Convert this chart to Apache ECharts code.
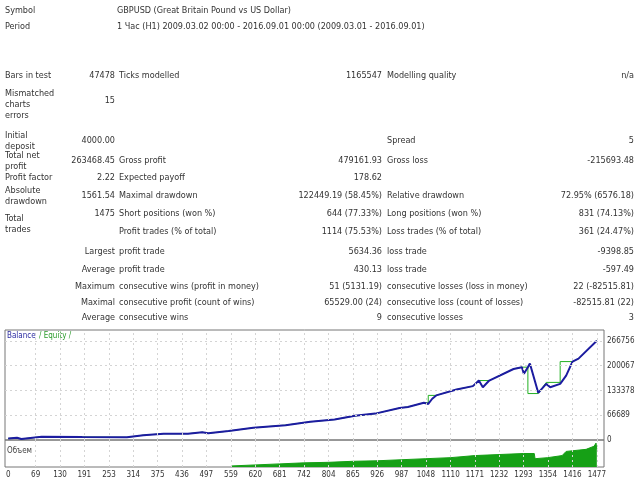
<!DOCTYPE html>
<html><head><meta charset="utf-8">
<script src="https://cdn.jsdelivr.net/npm/echarts@6/dist/echarts.min.js"></script>
<style>html,body{margin:0;padding:0;background:#fff}#c{width:640px;height:480px}</style>
</head><body><div id="c"></div>
<script>
const xTicks=[0,69,130,191,253,314,375,436,497,559,620,681,742,804,865,926,987,1048,1110,1171,1232,1293,1354,1416,1477];
const yTicks=[0,66689,133378,200067,266756];
const balance=[[0,4000],[22,6200],[33,2700],[84,8900],[186,8000],[298,7100],[339,13000],[390,17000],[451,17000],[487,21000],[502,18000],[553,24000],[615,33000],[696,40000],[758,49000],[819,55000],[870,65000],[921,71000],[982,86000],[1003,89000],[1043,100000],[1054,97000],[1064,111000],[1074,120000],[1125,136000],[1166,145000],[1181,160000],[1191,142000],[1207,160000],[1268,191000],[1289,196000],[1294,178000],[1304,196000],[1309,206000],[1330,127000],[1350,151000],[1360,142000],[1385,151000],[1400,173000],[1416,211000],[1431,219000],[1477,267000]];
const equity=[[0,4000],[22,6200],[33,2700],[84,8900],[186,8000],[298,7100],[339,13000],[390,17000],[451,17000],[487,21000],[502,18000],[553,24000],[615,33000],[696,40000],[758,49000],[819,55000],[870,65000],[921,71000],[982,86000],[1003,89000],[1043,100000],[1054,100000],[1054,120000],[1074,120000],[1125,136000],[1166,145000],[1181,160000],[1207,160000],[1268,191000],[1289,196000],[1304,196000],[1304,125000],[1330,125000],[1350,155000],[1362,155000],[1385,155000],[1385,211000],[1416,211000],[1431,219000],[1477,267000]];
const volume=[[559,1],[620,2],[681,3],[742,4],[804,4.5],[865,5.5],[926,6],[987,7],[1048,8],[1110,9],[1171,11],[1232,12],[1293,13],[1320,13],[1322,8],[1354,9],[1390,11],[1400,15],[1450,17],[1470,20],[1475,23],[1477,17]];
const rows=[
 ['Symbol',5,11,'left'],['GBPUSD (Great Britain Pound vs US Dollar)',117,11,'left'],
 ['Period',5,27,'left'],['1 Час (H1) 2009.03.02 00:00 - 2016.09.01 00:00 (2009.03.01 - 2016.09.01)',117,27,'left'],
 ['Bars in test',5,76,'left'],['47478',115,76,'right'],['Ticks modelled',119,76,'left'],['1165547',382,76,'right'],['Modelling quality',387,76,'left'],['n/a',634,76,'right'],
 ['Mismatched\ncharts\nerrors',5,105,'left'],['15',115,101,'right'],
 ['Initial\ndeposit',5,141,'left'],['4000.00',115,141,'right'],['Spread',387,141,'left'],['5',634,141,'right'],
 ['Total net\nprofit',5,161,'left'],['263468.45',115,161,'right'],['Gross profit',119,161,'left'],['479161.93',382,161,'right'],['Gross loss',387,161,'left'],['-215693.48',634,161,'right'],
 ['Profit factor',5,178,'left'],['2.22',115,178,'right'],['Expected payoff',119,178,'left'],['178.62',382,178,'right'],
 ['Absolute\ndrawdown',5,196,'left'],['1561.54',115,196,'right'],['Maximal drawdown',119,196,'left'],['122449.19 (58.45%)',382,196,'right'],['Relative drawdown',387,196,'left'],['72.95% (6576.18)',634,196,'right'],
 ['Total\ntrades',5,224,'left'],['1475',115,214,'right'],['Short positions (won %)',119,214,'left'],['644 (77.33%)',382,214,'right'],['Long positions (won %)',387,214,'left'],['831 (74.13%)',634,214,'right'],
 ['Profit trades (% of total)',119,232,'left'],['1114 (75.53%)',382,232,'right'],['Loss trades (% of total)',387,232,'left'],['361 (24.47%)',634,232,'right'],
 ['Largest',115,252,'right'],['profit trade',119,252,'left'],['5634.36',382,252,'right'],['loss trade',387,252,'left'],['-9398.85',634,252,'right'],
 ['Average',115,270,'right'],['profit trade',119,270,'left'],['430.13',382,270,'right'],['loss trade',387,270,'left'],['-597.49',634,270,'right'],
 ['Maximum',115,287,'right'],['consecutive wins (profit in money)',119,287,'left'],['51 (5131.19)',382,287,'right'],['consecutive losses (loss in money)',387,287,'left'],['22 (-82515.81)',634,287,'right'],
 ['Maximal',115,303,'right'],['consecutive profit (count of wins)',119,303,'left'],['65529.00 (24)',382,303,'right'],['consecutive loss (count of losses)',387,303,'left'],['-82515.81 (22)',634,303,'right'],
 ['Average',115,318,'right'],['consecutive wins',119,318,'left'],['9',382,318,'right'],['consecutive losses',387,318,'left'],['3',634,318,'right']
];
const F='"DejaVu Sans Condensed","DejaVu Sans",sans-serif';
const graphic=rows.map(r=>({type:'text',x:r[1],y:r[2],style:{text:r[0],textAlign:r[3],textVerticalAlign:'middle',font:'9px '+F,fill:'#333',lineHeight:11}}));
graphic.push({type:'text',x:7,y:336,style:{rich:{b:{fill:'#2a2aa0',font:'8px '+F},e:{fill:'#2a9a2a',font:'8px '+F}},text:'{b|Balance} {e|/ Equity /}',textVerticalAlign:'middle'}});
graphic.push({type:'text',x:7,y:451,style:{text:'Объем',font:'8px '+F,fill:'#444',textVerticalAlign:'middle'}});
const ml={silent:true,symbol:'none',label:{show:false},lineStyle:{color:'#d4d4d4',type:[2,3],width:1}};
const chart=echarts.init(document.getElementById('c'));
chart.setOption({
 animation:false,
 graphic:graphic,
 grid:[{left:5,right:36,top:330,height:110,show:true,borderColor:'#777',borderWidth:1},
       {left:5,right:36,top:440,height:27,show:true,borderColor:'#777',borderWidth:1}],
 xAxis:[{gridIndex:0,type:'value',min:-8,max:1495,show:false},
        {gridIndex:1,type:'value',min:-8,max:1495,axisLine:{show:false},axisTick:{show:false},splitLine:{show:false},
         axisLabel:{customValues:xTicks,formatter:v=>String(v),fontSize:8,color:'#333',fontFamily:F,margin:4}}],
 yAxis:[{gridIndex:0,type:'value',min:0,max:296000,position:'right',axisLine:{show:false},axisTick:{show:false},
         axisLabel:{customValues:yTicks,formatter:v=>String(v),fontSize:8,color:'#333',fontFamily:F,margin:3},splitLine:{show:false}},
        {gridIndex:1,type:'value',min:0,max:26,show:false}],
 series:[
  {type:'line',xAxisIndex:0,yAxisIndex:0,data:[],symbol:'none',
   markLine:Object.assign({data:xTicks.slice(1).map(v=>({xAxis:v})).concat(yTicks.slice(1).map(v=>({yAxis:v})))},ml)},
  {type:'line',xAxisIndex:1,yAxisIndex:1,data:[],symbol:'none',
   markLine:Object.assign({data:xTicks.slice(1).map(v=>({xAxis:v}))},ml)},
  {name:'Equity',type:'line',xAxisIndex:0,yAxisIndex:0,data:equity,symbol:'none',lineStyle:{color:'#22b022',width:1}},
  {name:'Balance',type:'line',xAxisIndex:0,yAxisIndex:0,data:balance,symbol:'none',lineStyle:{color:'#1c1ca0',width:2}},
  {name:'Volume',type:'line',xAxisIndex:1,yAxisIndex:1,data:volume,symbol:'none',lineStyle:{color:'#16a016',width:1},areaStyle:{color:'#16a016',opacity:1}}
 ]
});
</script></body></html>
